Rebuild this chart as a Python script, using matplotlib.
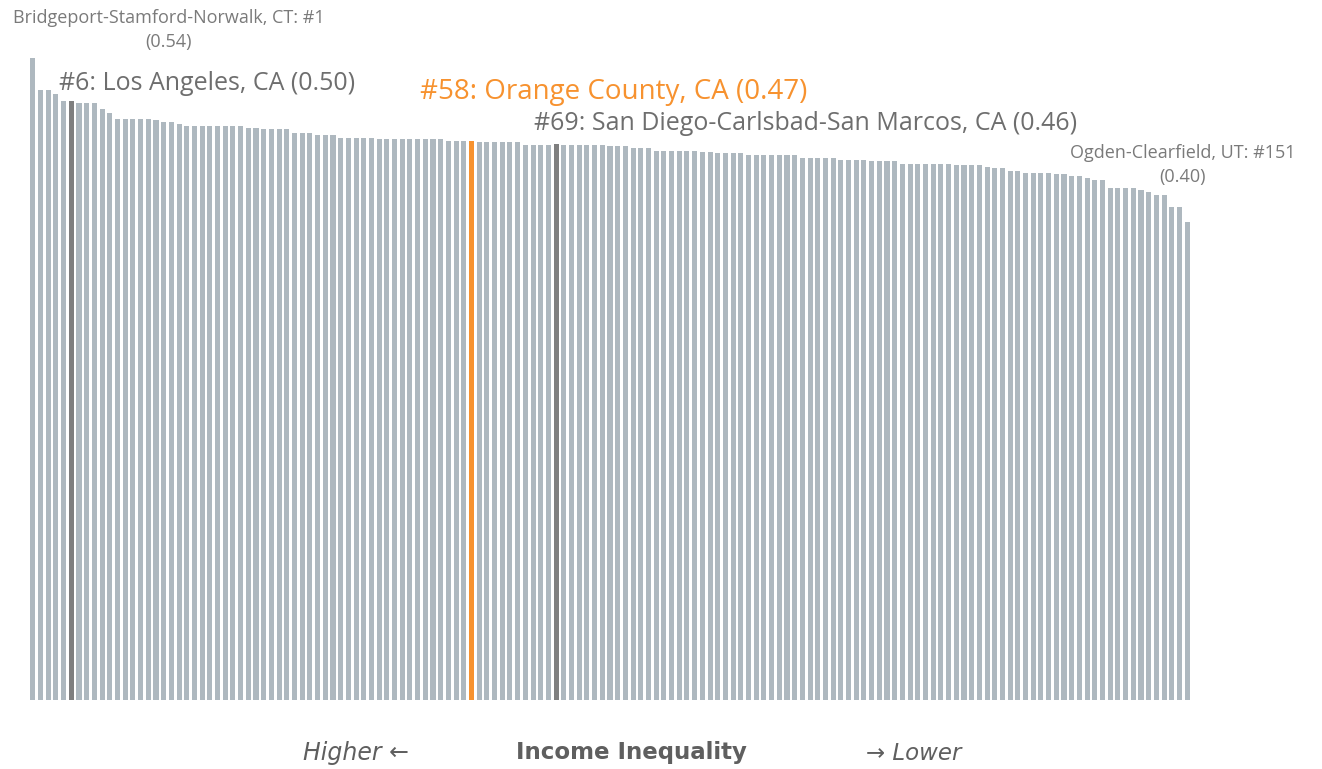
import matplotlib.pyplot as plt
import numpy as np

# Gini index of 151 metro areas, sorted from highest to lowest
gini = [0.540, 0.513, 0.513, 0.510, 0.504, 0.504, 0.502, 0.502, 0.502, 0.497,
        0.494, 0.489, 0.489, 0.489, 0.489, 0.489, 0.488, 0.486, 0.486, 0.484,
        0.483, 0.483, 0.483, 0.483, 0.483, 0.483, 0.483, 0.483, 0.481, 0.481,
        0.480, 0.480, 0.480, 0.480, 0.477, 0.477, 0.477, 0.475, 0.475, 0.475,
        0.473, 0.473, 0.473, 0.473, 0.473, 0.472, 0.472, 0.472, 0.472, 0.472,
        0.472, 0.472, 0.472, 0.472, 0.470, 0.470, 0.470, 0.470, 0.469, 0.469,
        0.469, 0.469, 0.469, 0.469, 0.467, 0.467, 0.467, 0.467, 0.468, 0.467,
        0.467, 0.467, 0.467, 0.467, 0.467, 0.466, 0.466, 0.466, 0.464, 0.464,
        0.464, 0.462, 0.462, 0.462, 0.462, 0.462, 0.462, 0.461, 0.461, 0.460,
        0.460, 0.460, 0.460, 0.458, 0.458, 0.458, 0.458, 0.458, 0.458, 0.458,
        0.456, 0.456, 0.456, 0.456, 0.456, 0.454, 0.454, 0.454, 0.454, 0.453,
        0.453, 0.453, 0.453, 0.451, 0.451, 0.451, 0.451, 0.451, 0.451, 0.451,
        0.450, 0.450, 0.450, 0.450, 0.448, 0.447, 0.447, 0.445, 0.445, 0.4435,
        0.4435, 0.4435, 0.4435, 0.442, 0.442, 0.441, 0.441, 0.439, 0.437, 0.437,
        0.431, 0.431, 0.431, 0.431, 0.429, 0.4275, 0.425, 0.425, 0.415, 0.415,
        0.402]

# highlighted ranks (1-based)
rank_dark = [6, 69]
rank_orange = 58

big_labels = ['#6: Los Angeles, CA (0.50)',
              '#58: Orange County, CA (0.47)',
              '#69: San Diego-Carlsbad-San Marcos, CA (0.46)']
end_labels = ['Bridgeport-Stamford-Norwalk, CT: #1\n(0.54)',
              'Ogden-Clearfield, UT: #151\n(0.40)']

W, H = 1322, 769
fig = plt.figure(figsize=(W / 100, H / 100), dpi=100)


def px(x, y):
    return x / W, 1 - y / H


ax = fig.add_axes([29 / W, 69 / H, 1162 / W, 654 / H])

colors = ['#aeb8bf'] * len(gini)
for r in rank_dark:
    colors[r - 1] = '#7f7f7f'
colors[rank_orange - 1] = '#f7922f'

x = np.arange(len(gini))
ax.bar(x, gini, width=0.66, color=colors, linewidth=0)
ax.set_xlim(-0.5, len(gini) - 0.5)
ax.set_ylim(0, 0.55)
ax.axis('off')

font = ['Open Sans', 'DejaVu Sans']
fig.text(*px(169, 30), end_labels[0], ha='center', va='center', fontsize=13,
         color='#7a7a7a', family=font, linespacing=1.45)
fig.text(*px(1183, 165), end_labels[1], ha='center', va='center', fontsize=13,
         color='#7a7a7a', family=font, linespacing=1.45)

fig.text(*px(59, 83), big_labels[0], ha='left', va='center', fontsize=18,
         color='#6e6e6e', family=font)
fig.text(*px(420, 92), big_labels[1], ha='left', va='center', fontsize=20,
         color='#f7922f', family=font)
fig.text(*px(534, 123), big_labels[2], ha='left', va='center', fontsize=18,
         color='#6e6e6e', family=font)

# axis caption along the bottom
fig.text(*px(409, 753), 'Higher \u2190', ha='right', va='center', fontsize=17,
         style='italic', color='#5f5f5f')
fig.text(*px(631, 753), 'Income Inequality', ha='center', va='center', fontsize=16.5,
         weight='bold', color='#5f5f5f')
fig.text(*px(866, 753), '\u2192 Lower', ha='left', va='center', fontsize=16.5,
         style='italic', color='#5f5f5f')

fig.savefig('out.png', dpi=100)
